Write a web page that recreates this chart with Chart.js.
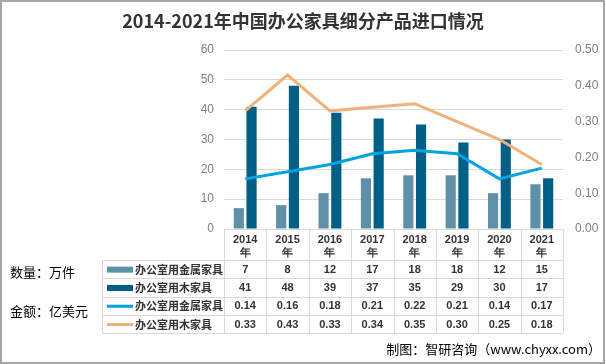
<!DOCTYPE html>
<html>
<head>
<meta charset="utf-8">
<script src="https://cdn.jsdelivr.net/npm/chart.js@4.4.1/dist/chart.umd.min.js"></script>
<style>
  html, body { margin: 0; padding: 0; background: #fff; }
  #wrap { width: 606px; height: 364px; position: relative; }
</style>
</head>
<body>
<div id="wrap"><canvas id="myChart"></canvas></div>
<script>
// chart data
const years = ['2014', '2015', '2016', '2017', '2018', '2019', '2020', '2021'];
const metalQty = [7, 8, 12, 17, 18, 18, 12, 15];        // 万件
const woodQty = [41, 48, 39, 37, 35, 29, 30, 17];       // 万件
const metalAmt = [0.14, 0.16, 0.18, 0.21, 0.22, 0.21, 0.14, 0.17]; // 亿美元
const woodAmt = [0.33, 0.43, 0.33, 0.34, 0.35, 0.30, 0.25, 0.18];  // 亿美元
const seriesNames = ['办公室用金属家具', '办公室用木家具', '办公室用金属家具', '办公室用木家具'];
const titleText = '2014-2021年中国办公家具细分产品进口情况';
const qtyLabel = '数量：万件';
const amtLabel = '金额：亿美元';
const sourceText = '制图：智研咨询（www.chyxx.com）';

const colors = ['#5e90a8', '#005f86', '#00a3e0', '#f0b27c'];
const cjk = "'Noto Sans CJK SC', 'Noto Sans', sans-serif";
const num = "'Liberation Sans', Arial, sans-serif";

// table + extra texts drawn below the plot
const tablePlugin = {
  id: 'tablePlugin',
  afterDraw(chart) {
    const ctx = chart.ctx;
    const area = chart.chartArea;
    const x = chart.scales.x;
    const n = years.length;
    const colW = (area.right - area.left) / n;
    const headTop = area.bottom;
    const headBottom = x.bottom;
    const rowH = 18.3;
    const legendLeft = 102.5;
    const tableBottom = headBottom + rowH * 4;

    ctx.save();
    ctx.strokeStyle = '#d9d9d9';
    ctx.lineWidth = 1;
    ctx.beginPath();
    for (let i = 0; i <= 4; i++) {
      const y = Math.round(headBottom + i * rowH) + 0.5;
      ctx.moveTo(legendLeft, y);
      ctx.lineTo(area.right, y);
    }
    for (let i = 0; i <= n; i++) {
      const xb = Math.round(area.left + i * colW) + 0.5;
      ctx.moveTo(xb, headTop);
      ctx.lineTo(xb, tableBottom);
    }
    ctx.moveTo(legendLeft, headBottom);
    ctx.lineTo(legendLeft, tableBottom);
    ctx.stroke();

    const rows = [
      metalQty.map(v => String(v)),
      woodQty.map(v => String(v)),
      metalAmt.map(v => v.toFixed(2)),
      woodAmt.map(v => v.toFixed(2))
    ];
    ctx.textBaseline = 'middle';
    rows.forEach((row, r) => {
      const yc = headBottom + r * rowH + rowH / 2 + 0.5;
      // legend key
      ctx.fillStyle = colors[r];
      if (r < 2) {
        ctx.fillRect(107, yc - 3, 26, 6);
      } else {
        ctx.fillRect(107, yc - 1.5, 26, 3);
      }
      ctx.fillStyle = '#333';
      ctx.textAlign = 'left';
      ctx.font = 'bold 11px ' + cjk;
      ctx.fillText(seriesNames[r], 135, yc);
      ctx.textAlign = 'center';
      ctx.font = 'bold 11px ' + num;
      row.forEach((t, i) => {
        ctx.fillText(t, x.getPixelForValue(i), yc);
      });
    });

    ctx.fillStyle = '#000';
    ctx.textAlign = 'left';
    ctx.font = '13px ' + cjk;
    ctx.fillText(qtyLabel, 10, 272);
    ctx.fillText(amtLabel, 10, 311);

    ctx.textAlign = 'right';
    ctx.fillText(sourceText, 601, 349);

    ctx.fillStyle = '#333';
    ctx.textAlign = 'center';
    ctx.font = 'bold 18px ' + cjk;
    ctx.fillText(titleText, 303, 21);

    ctx.strokeStyle = '#a6a6a6';
    ctx.lineWidth = 2;
    ctx.strokeRect(1, 1, 603, 362);
    ctx.restore();
  }
};

const data = {
  labels: years.map(y => [y, '年']),
  datasets: [
    {
      type: 'line',
      label: seriesNames[3],
      data: woodAmt,
      yAxisID: 'y1',
      borderColor: colors[3],
      borderWidth: 3,
      pointRadius: 0,
      tension: 0,
      order: 1
    },
    {
      type: 'line',
      label: seriesNames[2],
      data: metalAmt,
      yAxisID: 'y1',
      borderColor: colors[2],
      borderWidth: 3,
      pointRadius: 0,
      tension: 0,
      order: 1
    },
    {
      type: 'bar',
      label: seriesNames[0],
      data: metalQty,
      yAxisID: 'y',
      backgroundColor: colors[0],
      categoryPercentage: 0.6,
      barPercentage: 0.8,
      order: 2
    },
    {
      type: 'bar',
      label: seriesNames[1],
      data: woodQty,
      yAxisID: 'y',
      backgroundColor: colors[1],
      categoryPercentage: 0.6,
      barPercentage: 0.8,
      order: 2
    }
  ]
};

const config = {
  type: 'bar',
  data: data,
  options: {
    responsive: true,
    maintainAspectRatio: false,
    animation: false,
    layout: {
      padding: { top: 50, bottom: 104, left: 0, right: 0 }
    },
    scales: {
      x: {
        grid: { display: false, drawTicks: false, tickLength: 0 },
        border: { color: '#d9d9d9' },
        ticks: {
          color: '#333',
          font: { family: num, size: 11, weight: 'bold', lineHeight: 1.2 },
          padding: 4,
          maxRotation: 0
        },
        afterFit(scale) { scale.height = 31; }
      },
      y: {
        position: 'left',
        min: 0,
        max: 60,
        ticks: {
          stepSize: 10,
          color: '#7f7f7f',
          font: { family: num, size: 12 },
          padding: 10
        },
        grid: { color: '#d9d9d9', drawTicks: false },
        border: { display: false },
        afterFit(scale) { scale.width = 224; }
      },
      y1: {
        position: 'right',
        min: 0,
        max: 0.5,
        ticks: {
          stepSize: 0.1,
          color: '#7f7f7f',
          font: { family: num, size: 12 },
          padding: 12,
          callback: v => v.toFixed(2)
        },
        grid: { display: false, drawTicks: false },
        border: { display: false },
        afterFit(scale) { scale.width = 43; }
      }
    },
    plugins: {
      legend: { display: false },
      tooltip: { enabled: false }
    }
  },
  plugins: [tablePlugin]
};

const myChart = new Chart(document.getElementById('myChart'), config);
</script>
</body>
</html>
